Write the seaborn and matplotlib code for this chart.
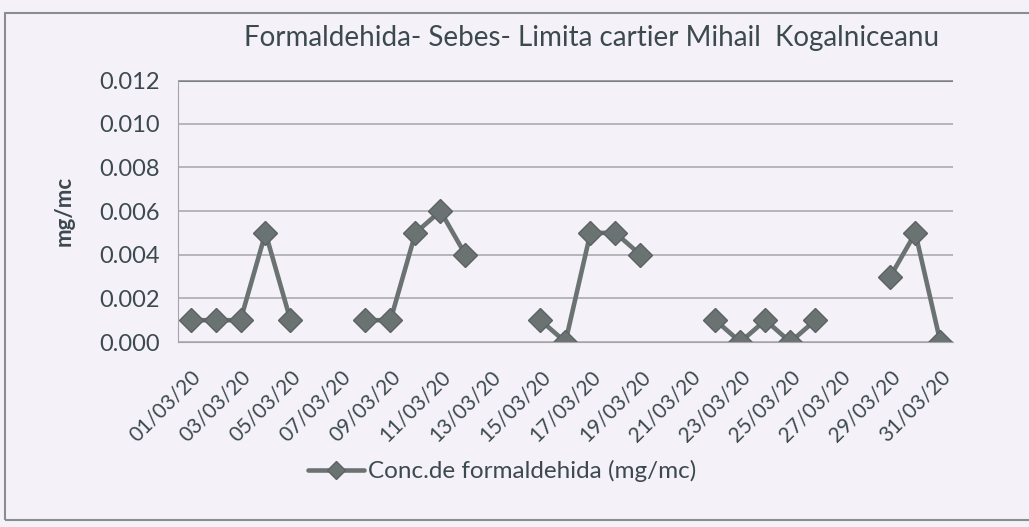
import numpy as np
import pandas as pd
import matplotlib
matplotlib.use("Agg")
import matplotlib.pyplot as plt
from matplotlib.patches import Rectangle
from matplotlib.lines import Line2D
import seaborn as sns

# date (zi din martie 2020) si concentratie formaldehida, mg/mc (NaN = lipsa masuratori)
zile = list(range(1, 32))
conc = [0.001, 0.001, 0.001, 0.005, 0.001, np.nan, np.nan,
        0.001, 0.001, 0.005, 0.006, 0.004, np.nan, np.nan,
        0.001, 0.0, 0.005, 0.005, 0.004, np.nan, np.nan,
        0.001, 0.0, 0.001, 0.0, 0.001, np.nan, np.nan,
        0.003, 0.005, 0.0]
etichete_x = ["%02d/03/20" % z for z in zile]
y_ticks = [0.000, 0.002, 0.004, 0.006, 0.008, 0.010, 0.012]

titlu = "Formaldehida- Sebes- Limita cartier Mihail  Kogalniceanu"
eticheta_y = "mg/mc"
legenda = "Conc.de formaldehida (mg/mc)"

df = pd.DataFrame({"zi": zile, "conc": conc})
# segmente continue (Excel lasa goluri la valori lipsa)
df["segment"] = df["conc"].isna().cumsum()
df = df.dropna()

fundal = "#f4f1f9"
culoare_text = "#3c4a4f"
culoare_linie = "#6b7272"
culoare_grid = "#a5a5a8"

sns.set_style("white")
plt.rcParams["font.family"] = ["Lato", "DejaVu Sans"]

fig = plt.figure(figsize=(10.29, 5.27), dpi=100, facecolor=fundal)
ax = fig.add_axes([0.173, 0.351, 0.753, 0.497])
ax.set_facecolor(fundal)

sns.lineplot(data=df, x="zi", y="conc", units="segment", estimator=None,
             color=culoare_linie, linewidth=3.3, marker="D", markersize=12,
             markerfacecolor=culoare_linie, markeredgecolor="#5c6262",
             markeredgewidth=1, ax=ax, legend=False)

ax.set_xlim(0.5, 31.5)
ax.set_ylim(0, 0.012)
ax.set_yticks(y_ticks)
ax.set_yticklabels(["%.3f" % v for v in y_ticks], fontsize=17, color=culoare_text)
ax.set_xticks(zile[::2])
ax.set_xticklabels(etichete_x[::2], rotation=45, ha="right", rotation_mode="anchor",
                   fontsize=15, color=culoare_text)
ax.tick_params(axis="x", length=0, pad=18)
ax.tick_params(axis="y", length=5, color=culoare_grid, pad=8)
ax.set_xticks(np.arange(0.5, 31, 2), minor=True)
ax.tick_params(axis="x", which="minor", length=5, color=culoare_grid)

ax.grid(axis="y", color=culoare_grid, linewidth=1.1)
ax.set_axisbelow(True)
for s in ["top", "right"]:
    ax.spines[s].set_visible(False)
ax.spines["left"].set_color(culoare_grid)
ax.spines["bottom"].set_color(culoare_grid)
ax.axhline(0.012, color="#7d8083", linewidth=2.2, zorder=0)

ax.set_xlabel("")
ax.set_ylabel(eticheta_y, fontsize=16, fontweight="bold", color=culoare_text, labelpad=18)

fig.text(0.575, 0.927, titlu, ha="center", va="center", fontsize=20, color=culoare_text)

h = Line2D([], [], color=culoare_linie, linewidth=3.3, marker="D", markersize=9,
           markerfacecolor=culoare_linie, markeredgecolor="#5c6262")
fig.legend([h], [legenda], loc="center", bbox_to_anchor=(0.488, 0.106), frameon=False,
           fontsize=17.5, labelcolor=culoare_text, handlelength=2.3, handletextpad=0.15)

# chenarul graficului (marginea dreapta iese din scanare)
fig.patches.append(Rectangle((0.005, 0.013), 1.1, 0.962, transform=fig.transFigure,
                             fill=False, edgecolor="#8a8d90", linewidth=1.5))

fig.savefig("out.png", dpi=100, facecolor=fundal)
